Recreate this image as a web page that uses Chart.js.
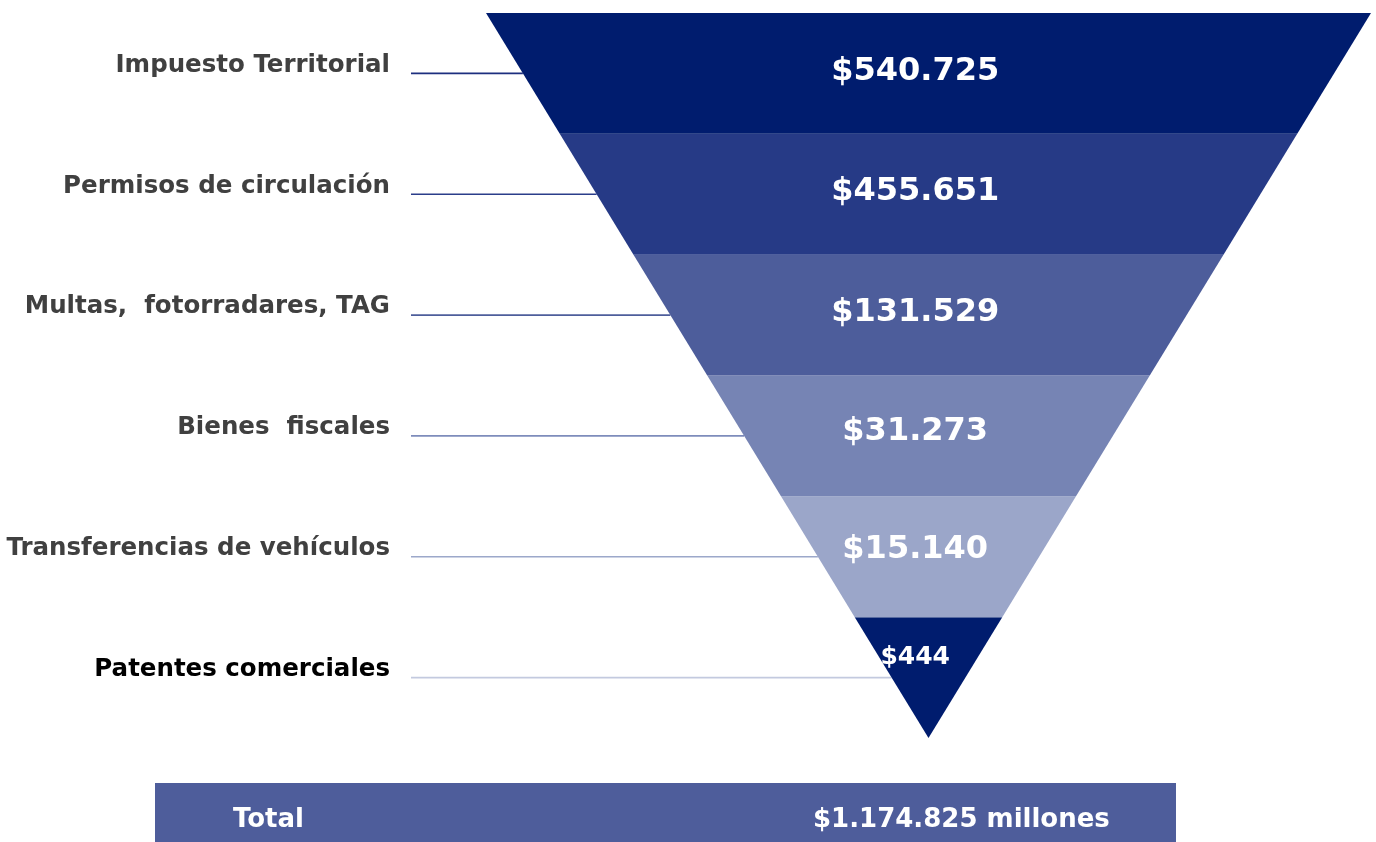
<!DOCTYPE html>
<html>
<head>
<meta charset="utf-8">
<script src="https://cdn.jsdelivr.net/npm/chart.js@4.4.1/dist/chart.umd.min.js"></script>
<style>
  html, body { margin: 0; padding: 0; background: #ffffff; }
  #wrap { width: 1376px; height: 842px; position: relative; }
</style>
</head>
<body>
<div id="wrap"><canvas id="c"></canvas></div>
<script>
// ---- data ----
const categories = [
  'Impuesto Territorial',
  'Permisos de circulación',
  'Multas,  fotorradares, TAG',
  'Bienes  fiscales',
  'Transferencias de vehículos',
  'Patentes comerciales'
];
const values = [540725, 455651, 131529, 31273, 15140, 444];   // millones de pesos
const totalValue = 1174825;                                     // millones de pesos (as stated)
const totalLabel = 'Total';
const unitLabel = 'millones';

// ---- styling ----
const bandColors   = ['#001c6e', '#263a86', '#4d5d9b', '#7684b4', '#9ba6c9', '#001c6e'];
const leaderColors = ['#1d2f7f', '#2b3d8a', '#4e5e9b', '#7e8cbb', '#9ca8ca', '#c3cadf'];
const labelColors  = ['#404040', '#404040', '#404040', '#404040', '#404040', '#000000'];
const totalColor = '#4e5d9b';
const FONT = '"DejaVu Sans", "Open Sans", sans-serif';

// ---- layout (in scale units: funnel half-width at top = 1, one band = 1) ----
const N = categories.length;
const X_MIN = -2.0983, X_MAX = 1.0113;
const Y_MIN = -0.1076, Y_MAX = 6.8607;
const LEADER_X = -1.1695;
const LABEL_X = -1.2170;
const VALUE_X = -0.03;
const TOTAL_BOX = { x0: -1.748, x1: 0.5593, y0: 6.372, y1: 6.95 };
const TOTAL_TEXT_X = -1.5718, TOTAL_VALUE_X = -0.2610, TOTAL_TEXT_Y = 6.68;

function fmt(v) {
  return '$' + String(v).replace(/\B(?=(\d{3})+(?!\d))/g, '.');
}
function halfWidth(level) { return 1 - level / N; }

const bandDatasets = values.map((v, i) => {
  const a = halfWidth(i), b = halfWidth(i + 1);
  return {
    type: 'line',
    label: categories[i],
    data: [
      { x: -a, y: i }, { x: a, y: i }, { x: b, y: i + 1 }, { x: -b, y: i + 1 }, { x: -a, y: i }
    ],
    backgroundColor: bandColors[i],
    borderColor: 'rgba(255,255,255,0.0)',
    borderWidth: 0,
    fill: 'shape',
    pointRadius: 0,
    pointHoverRadius: 0,
    tension: 0
  };
});

const separatorDatasets = values.slice(1).map((v, k) => {
  const i = k + 1, a = halfWidth(i);
  return {
    type: 'line',
    data: [{ x: -a, y: i }, { x: a, y: i }],
    borderColor: 'rgba(255,255,255,0.18)',
    borderWidth: 1,
    fill: false,
    pointRadius: 0
  };
});

const leaderDatasets = values.map((v, i) => ({
  type: 'line',
  data: [{ x: LEADER_X, y: i + 0.5 }, { x: -halfWidth(i + 0.5), y: i + 0.5 }],
  borderColor: leaderColors[i],
  borderWidth: 1.6,
  fill: false,
  pointRadius: 0
}));

const totalDataset = {
  type: 'line',
  data: [
    { x: TOTAL_BOX.x0, y: TOTAL_BOX.y0 }, { x: TOTAL_BOX.x1, y: TOTAL_BOX.y0 },
    { x: TOTAL_BOX.x1, y: TOTAL_BOX.y1 }, { x: TOTAL_BOX.x0, y: TOTAL_BOX.y1 },
    { x: TOTAL_BOX.x0, y: TOTAL_BOX.y0 }
  ],
  backgroundColor: totalColor,
  borderWidth: 0,
  fill: 'shape',
  pointRadius: 0
};

const textPlugin = {
  id: 'funnelText',
  afterDatasetsDraw(chart) {
    const { ctx, scales: { x, y } } = chart;
    ctx.save();
    for (let i = 0; i < N; i++) {
      // category label
      ctx.font = '700 24.5px ' + FONT;
      ctx.fillStyle = labelColors[i];
      ctx.textAlign = 'right';
      ctx.textBaseline = 'middle';
      ctx.fillText(categories[i], x.getPixelForValue(LABEL_X), y.getPixelForValue(i + 0.5) - 8);
      // value label at the band's centroid
      const a = halfWidth(i), b = halfWidth(i + 1);
      const frac = (a + 2 * b) / (3 * (a + b));
      ctx.font = (i === N - 1 ? '700 25px ' : '700 32px ') + FONT;
      ctx.fillStyle = '#ffffff';
      ctx.textAlign = 'center';
      ctx.fillText(fmt(values[i]), x.getPixelForValue(VALUE_X), y.getPixelForValue(i + frac));
    }
    // total bar texts
    ctx.font = '700 26px ' + FONT;
    ctx.fillStyle = '#ffffff';
    ctx.textAlign = 'left';
    ctx.textBaseline = 'middle';
    const ty = y.getPixelForValue(TOTAL_TEXT_Y);
    ctx.fillText(totalLabel, x.getPixelForValue(TOTAL_TEXT_X), ty);
    ctx.fillText(fmt(totalValue) + ' ' + unitLabel, x.getPixelForValue(TOTAL_VALUE_X), ty);
    ctx.restore();
  }
};

new Chart(document.getElementById('c'), {
  type: 'line',
  data: {
    datasets: [...bandDatasets, ...separatorDatasets, totalDataset, ...leaderDatasets]
  },
  options: {
    responsive: true,
    maintainAspectRatio: false,
    animation: false,
    layout: { padding: 0 },
    scales: {
      x: { type: 'linear', min: X_MIN, max: X_MAX, display: false },
      y: { type: 'linear', min: Y_MIN, max: Y_MAX, reverse: true, display: false }
    },
    plugins: {
      legend: { display: false },
      tooltip: { enabled: false },
      filler: { propagate: false }
    },
    events: []
  },
  plugins: [textPlugin]
});
</script>
</body>
</html>
